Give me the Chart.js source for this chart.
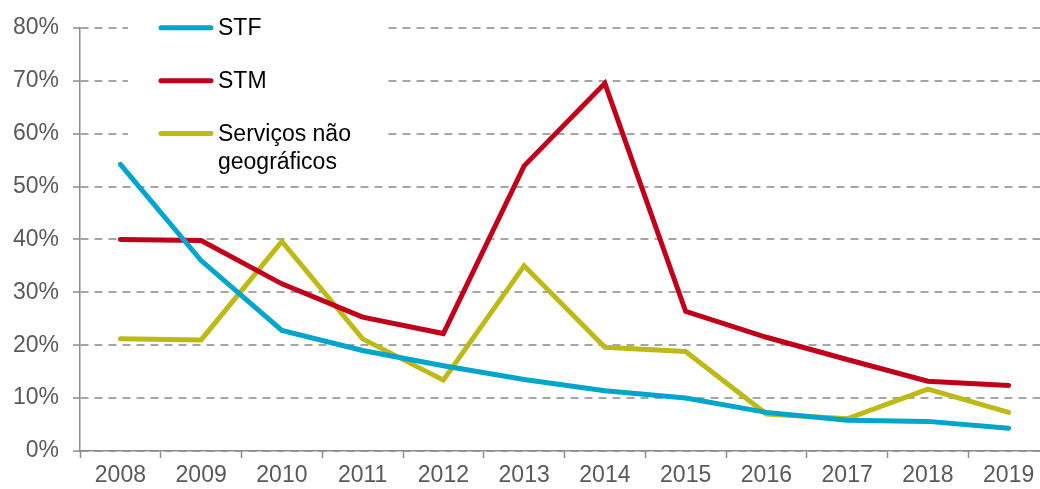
<!DOCTYPE html>
<html>
<head>
<meta charset="utf-8">
<script src="https://cdn.jsdelivr.net/npm/chart.js@4/dist/chart.umd.min.js"></script>
<style>
  html, body { margin: 0; padding: 0; background: #fff; overflow: hidden; }
  #wrap { width: 1049px; height: 489px; position: relative; }
</style>
</head>
<body>
<div id="wrap"><canvas id="lineChartCanvas"></canvas></div>
<script>
let years = ["2008", "2009", "2010", "2011", "2012", "2013", "2014", "2015", "2016", "2017", "2018", "2019"];
let stf = [54.2, 36, 22.8, 19, 16.1, 13.5, 11.4, 10, 7.3, 5.8, 5.6, 4.3];
let stm = [40, 39.8, 31.6, 25.3, 22.2, 53.9, 69.5, 26.4, 21.5, 17.3, 13.2, 12.4];
let servicos = [21.2, 21, 39.6, 21.2, 13.4, 35, 19.6, 18.8, 7, 6.1, 11.7, 7.3];
let yTicks = [0, 10, 20, 30, 40, 50, 60, 70, 80];

let seriesNames = ["STF", "STM", ["Serviços não", "geográficos"]];
let seriesColors = ["#00A5CB", "#C0001A", "#BDBA18"];

let fontFamily = "'Liberation Sans', Arial, sans-serif";

// legend drawn inside the plot, on a white box, like the original
let insideLegend = {
  id: "insideLegend",
  afterDatasetsDraw(chart) {
    let ctx = chart.ctx;
    let y = chart.scales.y;
    ctx.save();
    ctx.fillStyle = "#fff";
    ctx.fillRect(128, 0, 260, 170);
    let rows = [80, 70, 60];
    ctx.font = "23px " + fontFamily;
    ctx.textBaseline = "middle";
    ctx.fillStyle = "#000";
    rows.forEach((v, i) => {
      let py = y.getPixelForValue(v);
      ctx.strokeStyle = seriesColors[i];
      ctx.lineWidth = 5;
      ctx.lineCap = "round";
      ctx.beginPath();
      ctx.moveTo(161, py);
      ctx.lineTo(211, py);
      ctx.stroke();
      let name = seriesNames[i];
      if (Array.isArray(name)) {
        name.forEach((t, j) => ctx.fillText(t, 218, py + 1 + j * 28));
      } else {
        ctx.fillText(name, 218, py + 1);
      }
    });
    ctx.restore();
  },
};

let ctx_line = document.querySelector("#lineChartCanvas").getContext("2d");

new Chart(ctx_line, {
  type: "line",
  data: {
    labels: years,
    datasets: [
      { label: "STF", data: stf, borderColor: seriesColors[0] },
      { label: "STM", data: stm, borderColor: seriesColors[1] },
      { label: "Serviços não geográficos", data: servicos, borderColor: seriesColors[2] },
    ].map((d) => ({
      ...d,
      borderWidth: 5,
      pointRadius: 0,
      tension: 0,
      borderCapStyle: "round",
      borderJoinStyle: "miter",
      fill: false,
    })),
  },
  options: {
    responsive: true,
    maintainAspectRatio: false,
    animation: false,
    layout: { padding: { top: 24, right: 0, left: 0, bottom: 0 } },
    plugins: {
      legend: { display: false },
      tooltip: { enabled: false },
    },
    scales: {
      x: {
        offset: true,
        grid: {
          offset: true,
          drawOnChartArea: false,
          drawTicks: true,
          tickLength: 7,
          tickColor: "#8C8C8C",
          tickWidth: 1.5,
        },
        border: { color: "#8C8C8C", width: 1.5 },
        ticks: {
          color: "#595959",
          font: { size: 23, family: fontFamily },
          padding: 4,
          maxRotation: 0,
        },
        afterFit(scale) {
          scale.height = 38;
        },
      },
      y: {
        min: 0,
        max: 80,
        afterBuildTicks(scale) {
          scale.ticks = yTicks.map((v) => ({ value: v }));
        },
        grid: {
          color: "#A6A6A6",
          lineWidth: 2,
          tickLength: 7,
          tickColor: "#8C8C8C",
          tickWidth: 1.5,
          tickBorderDash: [],
        },
        border: { color: "#8C8C8C", width: 1.5, dash: [8, 6] },
        ticks: {
          color: "#595959",
          font: { size: 23, family: fontFamily },
          padding: 14,
          callback: (v) => v + "%",
        },
        afterFit(scale) {
          scale.width = 80;
        },
      },
    },
  },
  plugins: [insideLegend],
});
</script>
</body>
</html>
